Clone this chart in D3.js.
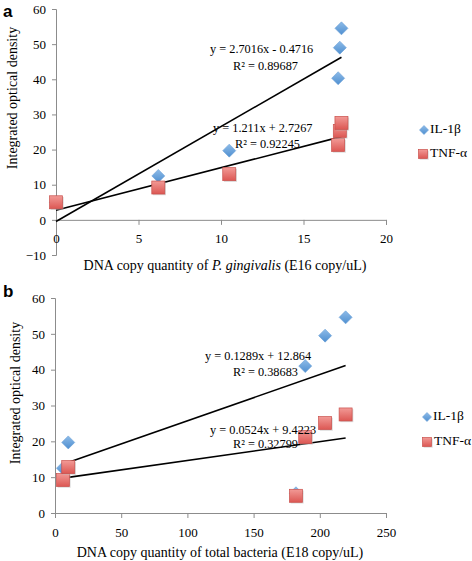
<!DOCTYPE html>
<html><head><meta charset="utf-8">
<script src="https://cdn.jsdelivr.net/npm/d3@7"></script>
<style>
body{margin:0;background:#fff;}
svg{display:block;}
</style></head>
<body><svg id="c" width="472" height="561"></svg>
<script>
// Panel a data (P. gingivalis, E16 copy/uL)
const aIL_x = [0, 6.2, 10.5, 17.1, 17.2, 17.3];
const aIL_y = [5, 12.5, 19.7, 40.3, 49.0, 54.5];
const aTNF_x = [0, 6.2, 10.5, 17.1, 17.2, 17.3];
const aTNF_y = [5, 9.2, 13, 21.3, 25.3, 27.6];
const aIL_fit = [2.7016, -0.4716];
const aTNF_fit = [1.211, 2.7267];
const aXTicks = [0, 5, 10, 15, 20];
const aYTicks = [-10, 0, 10, 20, 30, 40, 50, 60];
const aEq = ["y = 2.7016x - 0.4716", "R² = 0.89687", "y = 1.211x + 2.7267", "R² = 0.92245"];

// Panel b data (total bacteria, E18 copy/uL)
const bIL_x = [6, 10, 182, 189, 204, 219.5];
const bIL_y = [12.5, 19.7, 5.5, 41.0, 49.5, 54.6];
const bTNF_x = [6, 10, 182, 189, 204, 219.5];
const bTNF_y = [9.2, 12.8, 4.8, 21.2, 25.1, 27.5];
const bIL_fit = [0.1289, 12.864];
const bTNF_fit = [0.0524, 9.4223];
const bXTicks = [0, 50, 100, 150, 200, 250];
const bYTicks = [0, 10, 20, 30, 40, 50, 60];
const bEq = ["y = 0.1289x + 12.864", "R² = 0.38683", "y = 0.0524x + 9.4223", "R² = 0.32799"];

const legendLabels = ["IL-1β", "TNF-α"];

const svg = d3.select("#c");
const serif = '"Liberation Serif","Times New Roman",serif';

const defs = svg.append("defs");
const gB = defs.append("linearGradient").attr("id","gb").attr("x1",0).attr("y1",0).attr("x2",0).attr("y2",1);
gB.append("stop").attr("offset","0%").attr("stop-color","#8dbbe8");
gB.append("stop").attr("offset","100%").attr("stop-color","#4f8fd0");
const gR = defs.append("linearGradient").attr("id","gr").attr("x1",0).attr("y1",0).attr("x2",0).attr("y2",1);
gR.append("stop").attr("offset","0%").attr("stop-color","#f29a96");
gR.append("stop").attr("offset","100%").attr("stop-color","#dc5753");

function diamond(g, x, y, r) {
  g.append("path").attr("d", `M${x},${y-r}L${x+r},${y}L${x},${y+r}L${x-r},${y}Z`)
    .attr("fill","url(#gb)").attr("stroke","#6a9fd6").attr("stroke-width",0.6);
}
function square(g, x, y, s) {
  g.append("rect").attr("x",x-s/2+1.2).attr("y",y-s/2+1.2).attr("width",s).attr("height",s)
    .attr("fill","#b9b9b9").attr("opacity",0.5);
  g.append("rect").attr("x",x-s/2).attr("y",y-s/2).attr("width",s).attr("height",s)
    .attr("fill","url(#gr)").attr("stroke","#c9504c").attr("stroke-width",0.7);
}

function panel(cfg) {
  const g = svg.append("g");
  const x = d3.scaleLinear().domain(cfg.xd).range(cfg.xr);
  const y = d3.scaleLinear().domain(cfg.yd).range(cfg.yr);
  const axY = g.append("g").attr("transform",`translate(${cfg.xr[0]},0)`)
    .call(d3.axisLeft(y).tickValues(cfg.yt).tickSize(4).tickPadding(6).tickFormat(d3.format("d")));
  const axX = g.append("g").attr("transform",`translate(0,${y(0)})`)
    .call(d3.axisBottom(x).tickValues(cfg.xt).tickSize(5).tickPadding(cfg.xpad).tickFormat(d3.format("d")));
  [axX, axY].forEach(a => {
    a.attr("font-family", serif).attr("font-size", 13);
    a.select(".domain").attr("stroke","#8c8c8c");
    a.selectAll(".tick line").attr("stroke","#8c8c8c");
    a.selectAll(".tick text").attr("fill","#000").attr("font-family", serif).attr("font-size", 13);
  });
  // trend lines
  const lines = [[cfg.ilx, cfg.ilf], [cfg.tnx, cfg.tnf]];
  lines.forEach(([xs, f]) => {
    const x0 = d3.min(xs), x1 = d3.max(xs);
    g.append("line").attr("x1",x(x0)).attr("y1",y(f[0]*x0+f[1]))
      .attr("x2",x(x1)).attr("y2",y(f[0]*x1+f[1]))
      .attr("stroke","#000").attr("stroke-width",1.6);
  });
  // points: diamonds first, squares on top
  cfg.ilx.forEach((v,i) => diamond(g, x(v), y(cfg.ily[i]), 6.5));
  cfg.tnx.forEach((v,i) => square(g, x(v), y(cfg.tny[i]), 13));
  // equations
  cfg.eqPos.forEach((p,i) => {
    g.append("text").attr("x",p[0]).attr("y",p[1]).text(cfg.eq[i])
      .attr("font-family",serif).attr("font-size",12.3).attr("dominant-baseline","middle");
  });
  // axis titles
  const xt = g.append("text").attr("x",cfg.xtPos[0]).attr("y",cfg.xtPos[1])
    .attr("text-anchor","middle").attr("font-family",serif).attr("font-size",cfg.xtSize);
  cfg.xTitle.forEach(s => xt.append("tspan").text(s.t).attr("font-style", s.i ? "italic" : "normal"));
  g.append("text").attr("transform",`translate(${cfg.ytPos[0]},${cfg.ytPos[1]}) rotate(-90)`)
    .attr("text-anchor","middle").attr("dominant-baseline","middle")
    .attr("font-family",serif).attr("font-size",14).text("Integrated optical density");
  // panel letter
  g.append("text").attr("x",3).attr("y",cfg.letterY).text(cfg.letter)
    .attr("font-family",'"Liberation Sans",Arial,sans-serif').attr("font-weight","bold").attr("font-size",17);
  // legend
  diamond(g, cfg.leg[0], cfg.leg[1], 4.5);
  g.append("text").attr("x",cfg.leg[0]+6).attr("y",cfg.leg[1]).text(legendLabels[0])
    .attr("font-family",serif).attr("font-size",13.5).attr("dominant-baseline","middle");
  square(g, cfg.leg[2], cfg.leg[3], 9);
  g.append("text").attr("x",cfg.leg[2]+7).attr("y",cfg.leg[3]).text(legendLabels[1])
    .attr("font-family",serif).attr("font-size",13.5).attr("dominant-baseline","middle");
}

panel({
  xd:[0,20], xr:[56,386], yd:[-10,60], yr:[255,9],
  xt:aXTicks, yt:aYTicks, xpad:9,
  ilx:aIL_x, ily:aIL_y, tnx:aTNF_x, tny:aTNF_y, ilf:aIL_fit, tnf:aTNF_fit,
  eq:aEq, eqPos:[[210,50],[233,67],[213,129],[235,145]],
  xTitle:[{t:"DNA copy quantity of "},{t:"P. gingivalis",i:true},{t:" (E16 copy/uL)"}],
  xtPos:[225,270], xtSize:14, ytPos:[14,98], letter:"a", letterY:17,
  leg:[424,130,423,154]
});
panel({
  xd:[0,250], xr:[55,386], yd:[0,60], yr:[513,298],
  xt:bXTicks, yt:bYTicks, xpad:10,
  ilx:bIL_x, ily:bIL_y, tnx:bTNF_x, tny:bTNF_y, ilf:bIL_fit, tnf:bTNF_fit,
  eq:bEq, eqPos:[[205,357],[233,373],[210,431],[233,445]],
  xTitle:[{t:"DNA copy quantity of total bacteria (E18 copy/uL)"}],
  xtPos:[220,557], xtSize:14, ytPos:[17,393], letter:"b", letterY:297,
  leg:[427,417,427,442]
});
</script></body></html>
